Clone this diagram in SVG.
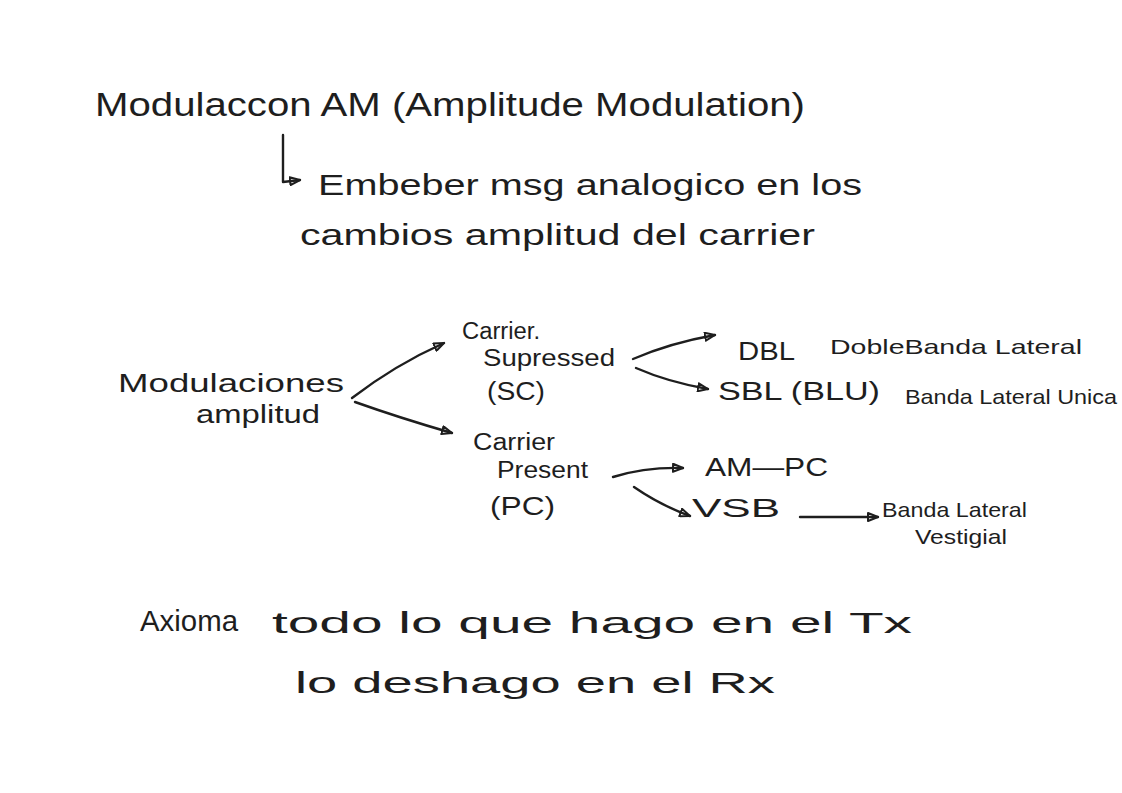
<svg xmlns="http://www.w3.org/2000/svg" width="1122" height="793" viewBox="0 0 1122 793">
<defs>
<style>
text{font-family:"Liberation Sans","DejaVu Sans",sans-serif;fill:#1e1e1e;font-weight:normal}
.t1{font-size:34px}
.t2{font-size:30px}
.t3{font-size:26px}
.t5{font-size:23px}
.t4{font-size:21px}
.ln{fill:none;stroke:#1e1e1e;stroke-width:2.4;stroke-linecap:round;stroke-linejoin:round}
</style>
<marker id="ah" viewBox="0 0 12 10" refX="11" refY="5" markerWidth="12" markerHeight="10" markerUnits="userSpaceOnUse" orient="auto">
<path d="M1,1 L11,5 L1,9 Z" fill="none" stroke="#1e1e1e" stroke-width="2" stroke-linejoin="round"/>
</marker>
</defs>
<rect width="1122" height="793" fill="#ffffff"/>
<g id="title">
<text class="t1" x="95" y="116" textLength="710" lengthAdjust="spacingAndGlyphs">Modulaccon AM (Amplitude Modulation)</text>
</g>
<g id="definition">
<text class="t2" x="318" y="195" textLength="544" lengthAdjust="spacingAndGlyphs">Embeber msg analogico en los</text>
<text class="t2" x="300" y="245" textLength="515" lengthAdjust="spacingAndGlyphs">cambios amplitud del carrier</text>
</g>
<g id="mod-amplitud">
<text class="t3" x="118" y="392" textLength="226" lengthAdjust="spacingAndGlyphs">Modulaciones</text>
<text class="t3" x="196" y="423" textLength="124" lengthAdjust="spacingAndGlyphs">amplitud</text>
</g>
<g id="sc">
<text class="t5" x="462" y="339" textLength="78" lengthAdjust="spacingAndGlyphs">Carrier.</text>
<text class="t5" x="483" y="366" textLength="132" lengthAdjust="spacingAndGlyphs">Supressed</text>
<text class="t3" x="487" y="400" textLength="58" lengthAdjust="spacingAndGlyphs">(SC)</text>
</g>
<g id="pc">
<text class="t5" x="473" y="450" textLength="82" lengthAdjust="spacingAndGlyphs">Carrier</text>
<text class="t5" x="497" y="478" textLength="91" lengthAdjust="spacingAndGlyphs">Present</text>
<text class="t3" x="490" y="515" textLength="65" lengthAdjust="spacingAndGlyphs">(PC)</text>
</g>
<g id="dbl">
<text class="t3" x="738" y="360" textLength="57" lengthAdjust="spacingAndGlyphs">DBL</text>
<text class="t4" x="830" y="354" textLength="252" lengthAdjust="spacingAndGlyphs">DobleBanda Lateral</text>
</g>
<g id="sbl">
<text class="t3" x="718" y="400" textLength="162" lengthAdjust="spacingAndGlyphs">SBL (BLU)</text>
<text class="t4" x="905" y="404" textLength="212" lengthAdjust="spacingAndGlyphs">Banda Lateral Unica</text>
</g>
<g id="ampc">
<text class="t3" x="705" y="476" textLength="123" lengthAdjust="spacingAndGlyphs">AM—PC</text>
</g>
<g id="vsb">
<text class="t3" x="692" y="517" textLength="88" lengthAdjust="spacingAndGlyphs">VSB</text>
</g>
<g id="vestigial">
<text class="t4" x="882" y="517" textLength="145" lengthAdjust="spacingAndGlyphs">Banda Lateral</text>
<text class="t4" x="915" y="544" textLength="92" lengthAdjust="spacingAndGlyphs">Vestigial</text>
</g>
<g id="axioma">
<text class="t2" x="140" y="631" textLength="98" lengthAdjust="spacingAndGlyphs">Axioma</text>
<text class="t2" x="272" y="633" textLength="640" lengthAdjust="spacingAndGlyphs">todo lo que hago en el Tx</text>
<text class="t2" x="295" y="693" textLength="480" lengthAdjust="spacingAndGlyphs">lo deshago en el Rx</text>
</g>
<g id="connectors">
<path class="ln" d="M283,135 L283,182 L300,180" marker-end="url(#ah)"/>
<path class="ln" d="M352,398 Q395,365 444,343" marker-end="url(#ah)"/>
<path class="ln" d="M355,402 Q400,418 452,433" marker-end="url(#ah)"/>
<path class="ln" d="M633,359 Q670,343 715,335" marker-end="url(#ah)"/>
<path class="ln" d="M636,368 Q668,382 708,389" marker-end="url(#ah)"/>
<path class="ln" d="M613,477 Q645,467 683,468" marker-end="url(#ah)"/>
<path class="ln" d="M634,487 Q660,505 690,516" marker-end="url(#ah)"/>
<path class="ln" d="M800,517 L878,517" marker-end="url(#ah)"/>
</g>
</svg>
